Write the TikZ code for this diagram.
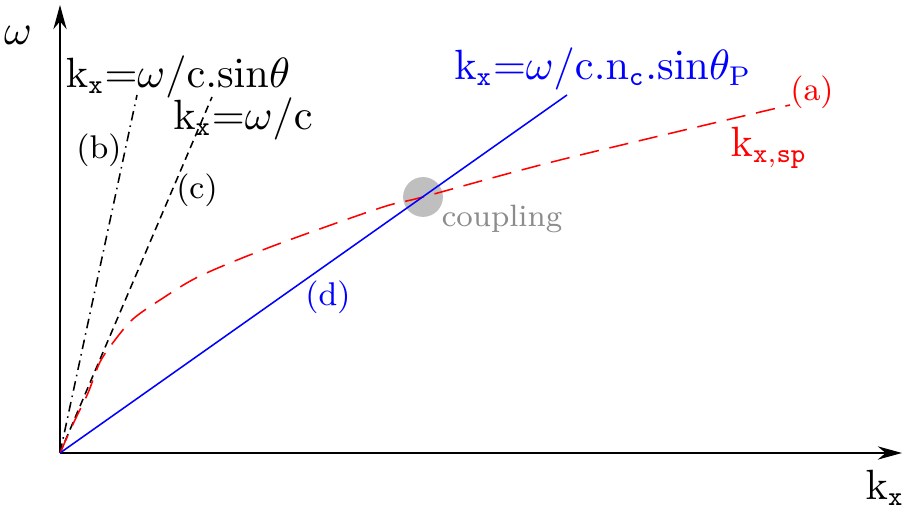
\documentclass[tikz,border=0pt]{standalone}
\usepackage{amsmath,amssymb}
\usepackage{xcolor}
\usepackage{tikz}
\usetikzlibrary{arrows.meta,positioning}

\begin{document}
\begin{tikzpicture}[
    x=0.0091cm, y=-0.0091cm,
    axis/.style={-{Stealth[length=2.2mm, width=1.2mm]}, line width=0.6pt},
    lbl/.style={inner sep=0pt, font=\fontsize{10.5}{12}\selectfont},
    tag/.style={inner sep=0pt, font=\fontsize{8.5}{10}\selectfont},
    curve/.style={line width=0.4pt}
]
\useasboundingbox (0,0) rectangle (904,511);
% axes
\coordinate (O) at (60,453);
\coordinate (ytop) at (60,5);
\coordinate (xend) at (902,453);
\draw[axis] (O) -- (ytop);
\draw[axis] (O) -- (xend);
\node[lbl] (omega) at (18,35) {$\omega$};
\node[lbl] (kx) at (885,488) {$\mathrm{k}_{\mathtt{x}}$};

% light lines
\coordinate (btop) at (137,95);
\coordinate (ctop) at (212,97);
\draw[curve, dash pattern=on 2.5pt off 1.3pt on 0.4pt off 1.3pt] (O) -- (btop);
\draw[curve, dash pattern=on 2pt off 1.3pt] (O) -- (ctop);
\node[lbl] (lightsin) at (178,77) {$\mathrm{k}_{\mathtt{x}}{=}\omega/\mathrm{c.sin}\theta$};
\node[lbl] (light) at (243,119) {$\mathrm{k}_{\mathtt{x}}{=}\omega/\mathrm{c}$};
\node[tag] (b) at (99,150) {(b)};
\node[tag] (c) at (197,190) {(c)};

% coupling point
\node[circle, fill=black!25, minimum size=40pt*0.0091/0.0353, inner sep=0pt] (cpl) at (423,197) {};
\node[tag, text=black!45, font=\fontsize{8}{10}\selectfont] (cpltxt) at (502,219) {coupling};

% surface plasmon
\draw[curve, red, dash pattern=on 5pt off 2.8pt] plot[smooth, tension=0.5] coordinates
  {(60,453) (74,422) (88,393) (100,362) (115,340) (133,319) (160,300) (200,276)
   (273,246) (380,208) (423,197) (560,160) (790,105)};
\node[tag, red] (a) at (812,92) {(a)};
\node[lbl, red] (kxsp) at (769,148) {$\mathrm{k}_{\mathtt{x,sp}}$};

% prism line
\coordinate (dtop) at (567,95);
\draw[curve, blue] (O) -- (dtop);
\node[lbl, blue] (prism) at (603,69) {$\mathrm{k}_{\mathtt{x}}{=}\omega/\mathrm{c.n}_{\mathtt{c}}.\mathrm{sin}\theta_{\mathrm{P}}$};
\node[tag, blue] (d) at (328,297) {(d)};
\end{tikzpicture}
\end{document}
